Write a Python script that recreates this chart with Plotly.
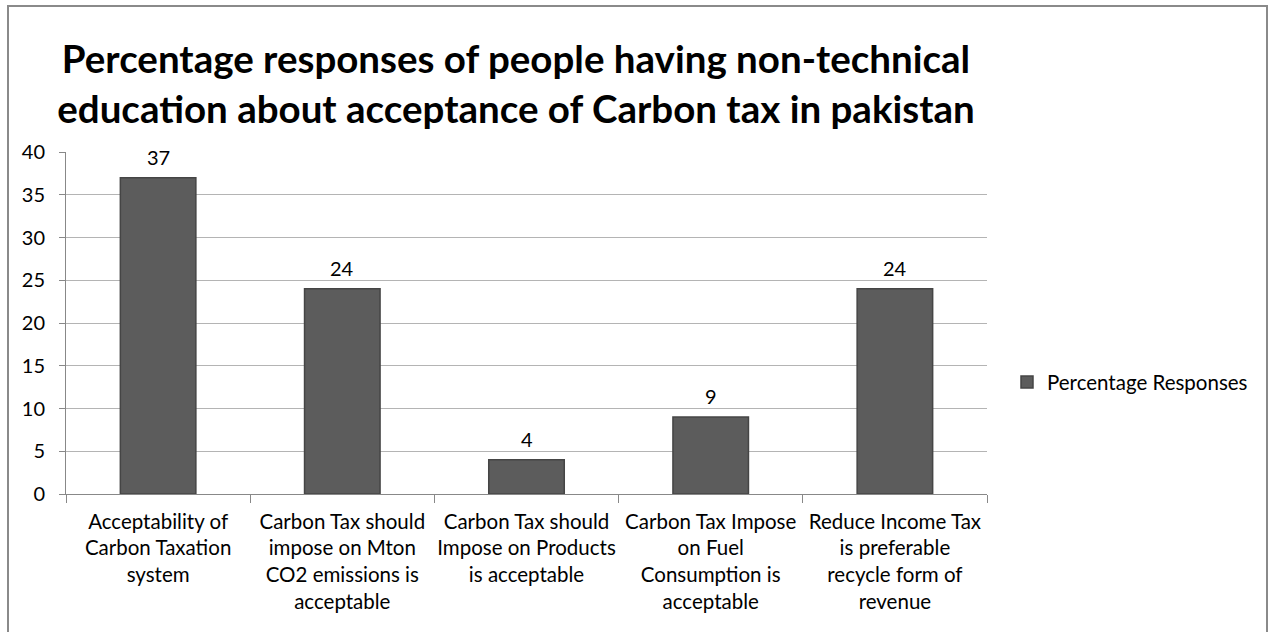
import plotly.graph_objects as go

categories = [
    "Acceptability of<br>Carbon Taxation<br>system",
    "Carbon Tax should<br>impose on Mton<br>CO2 emissions is<br>acceptable",
    "Carbon Tax should<br>Impose on Products<br>is acceptable",
    "Carbon Tax Impose<br>on Fuel<br>Consumption is<br>acceptable",
    "Reduce Income Tax<br>is preferable<br>recycle form of<br>revenue",
]
values = [37, 24, 4, 9, 24]
series_name = "Percentage Responses"
y_ticks = [0, 5, 10, 15, 20, 25, 30, 35, 40]

FONT = "Lato"

fig = go.Figure()
fig.add_trace(go.Bar(
    x=categories,
    y=values,
    name=series_name,
    marker=dict(color="#5c5c5c", line=dict(color="#454545", width=1.5)),
    cliponaxis=False,
    showlegend=True,
))

for c, v in zip(categories, values):
    fig.add_annotation(
        x=c, y=v, xref="x", yref="y",
        text=str(v), showarrow=False,
        yshift=21, yanchor="middle",
        font=dict(family=FONT, size=20, color="#000000"),
    )

fig.update_layout(
    width=1268,
    height=632,
    paper_bgcolor="white",
    plot_bgcolor="white",
    margin=dict(l=66, r=281, t=152, b=138, autoexpand=False),
    bargap=0.59,
    title=dict(
        text="<b>Percentage responses of people having non-technical<br>education about acceptance of Carbon tax in pakistan</b>",
        font=dict(family=FONT, size=38.5, color="#000000"),
        x=516 / 1268,
        xanchor="center",
        y=1 - 73 / 632,
        yanchor="middle",
    ),
    legend=dict(
        x=(1007 - 66) / 921,
        y=0.327,
        xanchor="left",
        yanchor="middle",
        font=dict(family=FONT, size=20.5, color="#000000"),
        bgcolor="rgba(0,0,0,0)",
        itemwidth=30,
    ),
    xaxis=dict(
        tickson="boundaries",
        ticks="outside",
        ticklen=8,
        tickcolor="#888888",
        showline=True,
        linecolor="#888888",
        linewidth=1,
        showgrid=False,
        tickfont=dict(family=FONT, size=20.5, color="#000000"),
        tickangle=0,
        ticklabelstandoff=9,
    ),
    yaxis=dict(
        range=[0, 40],
        tickvals=y_ticks,
        ticks="outside",
        ticklen=6,
        tickcolor="#888888",
        showline=True,
        linecolor="#888888",
        linewidth=1,
        showgrid=True,
        gridcolor="#b4b4b4",
        gridwidth=1,
        zeroline=False,
        tickfont=dict(family=FONT, size=20, color="#000000"),
        ticklabelstandoff=10,
    ),
    shapes=[
        dict(
            type="rect", xref="paper", yref="paper",
            x0=(8 - 66) / 921, x1=(1267 - 66) / 921,
            y0=(494 - 640) / 342, y1=(494 - 6) / 342,
            line=dict(color="#8a8a8a", width=2),
            fillcolor="rgba(0,0,0,0)",
            layer="below",
        )
    ],
)

fig.write_html("out.html")
